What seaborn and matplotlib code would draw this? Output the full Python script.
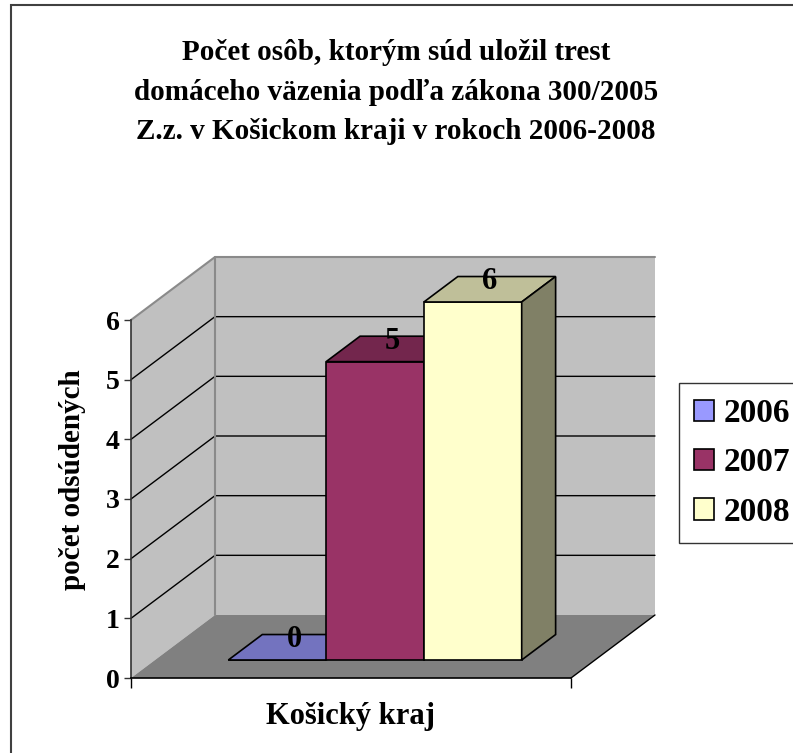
import matplotlib
matplotlib.use("Agg")
import matplotlib.pyplot as plt
from matplotlib.patches import Polygon, Rectangle
import seaborn as sns
import pandas as pd

# data
region = "Košický kraj"
years = ["2006", "2007", "2008"]
counts = [0, 5, 6]
colors = ["#9999FF", "#993366", "#FFFFCC"]
yticks = [0, 1, 2, 3, 4, 5, 6]

title = ("Počet osôb, ktorým súd uložil trest\n"
         "domáceho väzenia podľa zákona 300/2005\n"
         "Z.z. v Košickom kraji v rokoch 2006-2008")
ylabel = "počet odsúdených"

sns.set_style("white")
plt.rcParams["font.family"] = ["Liberation Serif", "DejaVu Serif"]
plt.rcParams["font.weight"] = "bold"
for k in ["text.color", "axes.labelcolor", "xtick.color", "ytick.color"]:
    plt.rcParams[k] = "black"

W, H = 793, 753
fig = plt.figure(figsize=(W / 100, H / 100), dpi=100)
# front plane of the 3d box
ax = fig.add_axes([131 / W, 75 / H, 440 / W, 358 / H])
ax.patch.set_visible(False)

XL, YL = (-0.6, 0.6), (0, 6)
ax.set_xlim(*XL)
ax.set_ylim(*YL)

# depth of the box in data units (84 px right, 63 px up)
ddx = 84 / (440 / (XL[1] - XL[0]))
ddy = 63 / (358 / (YL[1] - YL[0]))
f_front, f_back = 0.286, 0.69   # bar front / back inside the depth

# walls and floor
wall = "#C0C0C0"
x0, x1, ytop = XL[0], XL[1], YL[1]
ax.add_patch(Polygon([(x0 + ddx, ddy), (x1 + ddx, ddy), (x1 + ddx, ytop + ddy), (x0 + ddx, ytop + ddy)],
                     closed=True, fc=wall, ec="none", zorder=0.5, clip_on=False))
ax.add_patch(Polygon([(x0, 0), (x0 + ddx, ddy), (x0 + ddx, ytop + ddy), (x0, ytop)],
                     closed=True, fc=wall, ec="none", zorder=0.5, clip_on=False))
ax.add_patch(Polygon([(x0, 0), (x1, 0), (x1 + ddx, ddy), (x0 + ddx, ddy)],
                     closed=True, fc="#808080", ec="none", zorder=0.6, clip_on=False))
# wall edges
ax.plot([x0, x0 + ddx, x1 + ddx], [ytop, ytop + ddy, ytop + ddy], color="#8a8a8a", lw=1.5,
        zorder=0.9, clip_on=False)
ax.plot([x0 + ddx, x0 + ddx], [ddy, ytop + ddy], color="#8a8a8a", lw=1.5, zorder=0.9, clip_on=False)
ax.plot([x1, x1 + ddx], [0, ddy], color="black", lw=1, zorder=0.9, clip_on=False)

# gridlines on back and left wall
for v in yticks[1:-1]:
    ax.plot([x0, x0 + ddx, x1 + ddx], [v, v + ddy, v + ddy], color="black", lw=1,
            zorder=0.8, clip_on=False)

df = pd.DataFrame({"kraj": [region] * len(years), "rok": years, "pocet": counts})
sns.barplot(data=df, x="kraj", y="pocet", hue="rok", palette=colors, ax=ax,
            edgecolor="black", linewidth=1.2, legend=False, saturation=1)
ax.set_xlim(*XL)
ax.set_ylim(*YL)

handles = []
i = 0
for cont in ax.containers:
    for bar in cont:
        fc = bar.get_facecolor()
        bx = bar.get_x() + f_front * ddx
        by = f_front * ddy
        bw, bh = bar.get_width(), bar.get_height()
        bar.set_x(bx)
        bar.set_y(by)
        bar.set_zorder(2 + i)
        bar.set_clip_on(False)
        ex = (f_back - f_front) * ddx
        ey = (f_back - f_front) * ddy
        top = Polygon([(bx, by + bh), (bx + bw, by + bh), (bx + bw + ex, by + bh + ey), (bx + ex, by + bh + ey)],
                      closed=True, fc=[c * 0.75 for c in fc[:3]], ec="black", lw=1.2,
                      zorder=2 + i, clip_on=False)
        side = Polygon([(bx + bw, by), (bx + bw + ex, by + ey), (bx + bw + ex, by + bh + ey), (bx + bw, by + bh)],
                       closed=True, fc=[c * 0.5 for c in fc[:3]], ec="black", lw=1.2,
                       zorder=2 + i, clip_on=False)
        ax.add_patch(top)
        ax.add_patch(side)
        ax.text(bx + bw / 2 + ex / 2, by + bh + ey / 2, str(counts[i]), ha="center", va="baseline",
                fontsize=22, fontweight="bold", zorder=10)
        handles.append(bar)
        i += 1

# axes
for s in ["top", "right"]:
    ax.spines[s].set_visible(False)
ax.spines["left"].set_color("#333333")
ax.spines["left"].set_linewidth(1.2)
ax.spines["bottom"].set_color("black")
ax.spines["bottom"].set_linewidth(1.2)
for s in ["left", "bottom"]:
    ax.spines[s].set_zorder(1)

ax.set_yticks(yticks)
ax.tick_params(axis="y", length=5, width=1, color="#333333", labelsize=20, pad=3, left=True)
ax.tick_params(axis="x", length=0, labelsize=22, pad=17)
ax.set_xticks([XL[0], XL[1]], minor=True)
ax.tick_params(axis="x", which="minor", length=7, width=1, color="black", direction="out", bottom=True)
for lab in ax.get_xticklabels() + ax.get_yticklabels():
    lab.set_fontweight("bold")
ax.set_xlabel("")
ax.set_ylabel(ylabel, fontsize=21, fontweight="bold", va="center")
ax.yaxis.set_label_coords((73 - 131) / 440, (678 - 480) / 358)

fig.text(396 / W, 1 - 92 / H, title, ha="center", va="center", fontsize=21,
         fontweight="bold", linespacing=1.6)

leg = fig.legend(handles, years, loc="upper left", bbox_to_anchor=(679 / W, 1 - 383 / H),
                 frameon=True, fancybox=False, edgecolor="#333333", framealpha=1,
                 prop={"size": 24, "weight": "bold"}, handlelength=0.6, handleheight=0.6,
                 handletextpad=0.3, borderpad=0.45, labelspacing=0.55, borderaxespad=0)
leg.get_frame().set_linewidth(1)

# outer chart frame
fig.patches.append(Rectangle((11 / W, -0.1), 1.2, 1.1 - 5 / H, transform=fig.transFigure,
                             fill=False, edgecolor="#404040", lw=1.5))

fig.savefig("out.png", dpi=100)
